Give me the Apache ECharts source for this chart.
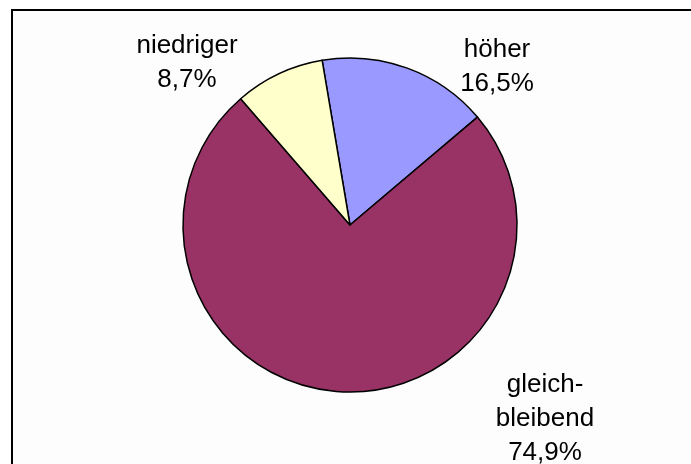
<!DOCTYPE html>
<html>
<head>
<meta charset="utf-8">
<script src="https://cdn.jsdelivr.net/npm/echarts@6/dist/echarts.min.js"></script>
<style>
html,body{margin:0;padding:0;background:#fff;}
#chart{width:691px;height:464px;}
</style>
</head>
<body>
<div id="chart"></div>
<script>
const categories = ['höher', 'gleich-\nbleibend', 'niedriger'];
const values = [16.5, 74.9, 8.7];
const valueLabels = ['16,5%', '74,9%', '8,7%'];
const colors = ['#9999FF', '#993366', '#FFFFCC'];

const labelPos = [
  {x: 497, y: 67},
  {x: 545, y: 419},
  {x: 187, y: 63}
];

const chart = echarts.init(document.getElementById('chart'), null, {renderer: 'canvas'});
chart.setOption({
  backgroundColor: '#ffffff',
  animation: false,
  graphic: [{
    type: 'rect',
    shape: {x: 12, y: 10, width: 700, height: 470},
    style: {fill: '#fdfdfd', stroke: '#000', lineWidth: 2},
    z: -10
  }],
  series: [{
    type: 'pie',
    center: [350, 225],
    radius: [0, 167],
    startAngle: 99.6,
    clockwise: true,
    avoidLabelOverlap: false,
    data: categories.map((c, i) => ({
      name: c, value: values[i],
      itemStyle: {color: colors[i]}
    })),
    itemStyle: {borderColor: '#000', borderWidth: 1.5},
    label: {
      show: true,
      position: 'outside',
      formatter: p => p.name + '\n' + valueLabels[p.dataIndex],
      fontFamily: 'Liberation Sans, Arial, sans-serif',
      fontSize: 26,
      lineHeight: 34,
      color: '#000',
      align: 'center'
    },
    labelLine: {show: false},
    labelLayout: p => ({
      x: labelPos[p.dataIndex].x,
      y: labelPos[p.dataIndex].y,
      align: 'center',
      verticalAlign: 'middle'
    }),
    emphasis: {disabled: true}
  }]
});
</script>
</body>
</html>
